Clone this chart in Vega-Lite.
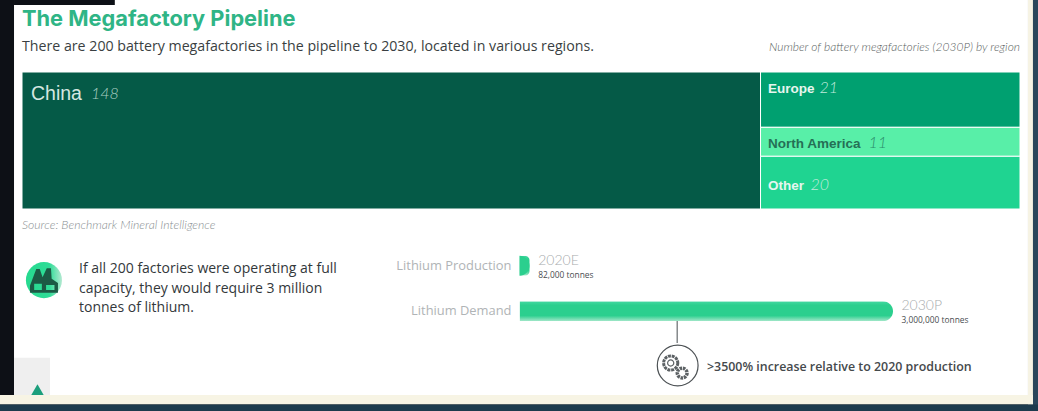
{
  "$schema": "https://vega.github.io/schema/vega-lite/v6.json",
  "width": 1038,
  "height": 411,
  "padding": 0,
  "autosize": "none",
  "background": "#0d1016",
  "config": {"view": {"stroke": null}},
  "datasets": {
    "regions": [
      {"region": "China", "factories": 148, "x0": 0, "x1": 148, "y0": 0, "y1": 52},
      {"region": "Europe", "factories": 21, "x0": 148, "x1": 200, "y0": 0, "y1": 21},
      {"region": "North America", "factories": 11, "x0": 148, "x1": 200, "y0": 21, "y1": 32},
      {"region": "Other", "factories": 20, "x0": 148, "x1": 200, "y0": 32, "y1": 52}
    ],
    "lithium": [
      {"flow": "Lithium Production", "tonnes": 82000, "period": "2020E", "amount": "82,000 tonnes"},
      {"flow": "Lithium Demand", "tonnes": 3000000, "period": "2030P", "amount": "3,000,000 tonnes"}
    ]
  },
  "layer": [
    {
      "data": {"values": [{"panel": "page"}]},
      "layer": [
        {
          "mark": {"type": "rect", "color": "#ffffff"},
          "encoding": {
            "x": {"datum": -1.6, "type": "quantitative", "axis": null,
                  "scale": {"domain": [0, 200], "range": [22, 1020], "nice": false, "zero": false}},
            "x2": {"datum": 201.6},
            "y": {"datum": -27.33, "type": "quantitative", "axis": null,
                  "scale": {"domain": [0, 52], "range": [72, 209], "nice": false, "zero": false}},
            "y2": {"datum": 123}
          }
        },
        {
          "mark": {"type": "rect", "color": "#0d1016"},
          "encoding": {
            "x": {"datum": -1.6, "type": "quantitative"}, "x2": {"datum": 18.6},
            "y": {"datum": -27.33, "type": "quantitative"}, "y2": {"datum": -25.4}
          }
        },
        {
          "mark": {"type": "rect", "color": "#f6f3e4"},
          "encoding": {
            "x": {"datum": 201.6, "type": "quantitative"}, "x2": {"datum": 202.6},
            "y": {"datum": -27.33, "type": "quantitative"}, "y2": {"datum": 126.2}
          }
        },
        {
          "mark": {"type": "rect", "color": "#2a465a"},
          "encoding": {
            "x": {"datum": 202.6, "type": "quantitative"}, "x2": {"datum": 203.7},
            "y": {"datum": -27.33, "type": "quantitative"}, "y2": {"datum": 129}
          }
        },
        {
          "mark": {"type": "rect", "color": "#efefef"},
          "encoding": {
            "x": {"datum": -1.6, "type": "quantitative"}, "x2": {"datum": 5.6},
            "y": {"datum": 108.5, "type": "quantitative"}, "y2": {"datum": 123}
          }
        },
        {
          "mark": {"type": "point", "shape": "triangle-up", "filled": true, "color": "#1c9f7c", "size": 225, "opacity": 1},
          "encoding": {
            "x": {"datum": 3.1, "type": "quantitative"},
            "y": {"datum": 121, "type": "quantitative"}
          }
        },
        {
          "mark": {"type": "rect", "color": "#f7f4e4"},
          "encoding": {
            "x": {"datum": -4.41, "type": "quantitative"}, "x2": {"datum": 202.6},
            "y": {"datum": 122.6, "type": "quantitative"}, "y2": {"datum": 126.2}
          }
        },
        {
          "mark": {"type": "rect", "color": "#1d3b4d"},
          "encoding": {
            "x": {"datum": -4.41, "type": "quantitative"}, "x2": {"datum": 203.7},
            "y": {"datum": 126.2, "type": "quantitative"}, "y2": {"datum": 129}
          }
        },
        {
          "data": {"name": "regions"},
          "mark": {"type": "rect", "stroke": "#ffffff", "strokeWidth": 1},
          "encoding": {
            "x": {"field": "x0", "type": "quantitative"},
            "x2": {"field": "x1"},
            "y": {"field": "y0", "type": "quantitative"},
            "y2": {"field": "y1"},
            "color": {
              "field": "region", "type": "nominal", "legend": null,
              "scale": {
                "domain": ["China", "Europe", "North America", "Other"],
                "range": ["#055a47", "#00a070", "#58efa8", "#1fd491"]
              }
            }
          }
        },
        {
          "data": {"name": "regions"},
          "transform": [{"filter": "datum.region === 'China'"}],
          "layer": [
            {
              "mark": {"type": "text", "align": "left", "baseline": "middle", "font": "Liberation Sans", "fontSize": 19.5, "color": "#d5e8e1", "dx": 9, "dy": 22},
              "encoding": {"text": {"field": "region"}, "x": {"field": "x0", "type": "quantitative"}, "y": {"field": "y0", "type": "quantitative"}}
            },
            {
              "mark": {"type": "text", "align": "left", "baseline": "middle", "font": "Lato", "fontStyle": "italic", "fontWeight": 300, "fontSize": 16, "color": "#a9cfc2", "dx": 69, "dy": 22},
              "encoding": {"text": {"field": "factories"}, "x": {"field": "x0", "type": "quantitative"}, "y": {"field": "y0", "type": "quantitative"}}
            }
          ]
        },
        {
          "data": {"name": "regions"},
          "transform": [{"filter": "datum.region === 'Europe'"}],
          "layer": [
            {
              "mark": {"type": "text", "align": "left", "baseline": "middle", "font": "Liberation Sans", "fontSize": 13.5, "fontWeight": 600, "color": "#e6f6ef", "dx": 7.5, "dy": 17},
              "encoding": {"text": {"field": "region"}, "x": {"field": "x0", "type": "quantitative"}, "y": {"field": "y0", "type": "quantitative"}}
            },
            {
              "mark": {"type": "text", "align": "left", "baseline": "middle", "font": "Lato", "fontStyle": "italic", "fontWeight": 300, "fontSize": 16, "color": "#bfeadb", "dx": 59, "dy": 16},
              "encoding": {"text": {"field": "factories"}, "x": {"field": "x0", "type": "quantitative"}, "y": {"field": "y0", "type": "quantitative"}}
            }
          ]
        },
        {
          "data": {"name": "regions"},
          "transform": [{"filter": "datum.region === 'North America'"}],
          "layer": [
            {
              "mark": {"type": "text", "align": "left", "baseline": "middle", "font": "Liberation Sans", "fontSize": 13.5, "fontWeight": 600, "color": "#256f56", "dx": 7.5, "dy": 17},
              "encoding": {"text": {"field": "region"}, "x": {"field": "x0", "type": "quantitative"}, "y": {"field": "y0", "type": "quantitative"}}
            },
            {
              "mark": {"type": "text", "align": "left", "baseline": "middle", "font": "Lato", "fontStyle": "italic", "fontWeight": 300, "fontSize": 16, "color": "#2b8d6c", "dx": 108, "dy": 16},
              "encoding": {"text": {"field": "factories"}, "x": {"field": "x0", "type": "quantitative"}, "y": {"field": "y0", "type": "quantitative"}}
            }
          ]
        },
        {
          "data": {"name": "regions"},
          "transform": [{"filter": "datum.region === 'Other'"}],
          "layer": [
            {
              "mark": {"type": "text", "align": "left", "baseline": "middle", "font": "Liberation Sans", "fontSize": 13.5, "fontWeight": 600, "color": "#e6f6ef", "dx": 7.5, "dy": 30},
              "encoding": {"text": {"field": "region"}, "x": {"field": "x0", "type": "quantitative"}, "y": {"field": "y0", "type": "quantitative"}}
            },
            {
              "mark": {"type": "text", "align": "left", "baseline": "middle", "font": "Lato", "fontStyle": "italic", "fontWeight": 300, "fontSize": 16, "color": "#bfeadb", "dx": 50, "dy": 29},
              "encoding": {"text": {"field": "factories"}, "x": {"field": "x0", "type": "quantitative"}, "y": {"field": "y0", "type": "quantitative"}}
            }
          ]
        },
        {
          "data": {"values": [{"label": "The Megafactory Pipeline"}]},
          "mark": {"type": "text", "align": "left", "baseline": "middle", "font": "Inter", "fontWeight": 700, "fontSize": 21.8, "color": "#2fb586"},
          "encoding": {"text": {"field": "label"}, "x": {"datum": 0, "type": "quantitative"}, "y": {"datum": -20.1, "type": "quantitative"}}
        },
        {
          "data": {"values": [{"label": "There are 200 battery megafactories in the pipeline to 2030, located in various regions."}]},
          "mark": {"type": "text", "align": "left", "baseline": "middle", "font": "Open Sans", "fontWeight": 500, "fontSize": 14.2, "color": "#3a3f42"},
          "encoding": {"text": {"field": "label"}, "x": {"datum": 0, "type": "quantitative"}, "y": {"datum": -9.5, "type": "quantitative"}}
        },
        {
          "data": {"values": [{"label": "Number of battery megafactories (2030P) by region"}]},
          "mark": {"type": "text", "align": "right", "baseline": "middle", "font": "Lato", "fontStyle": "italic", "fontWeight": 300, "fontSize": 12, "color": "#5a5f62"},
          "encoding": {"text": {"field": "label"}, "x": {"datum": 200, "type": "quantitative"}, "y": {"datum": -9.5, "type": "quantitative"}}
        },
        {
          "data": {"values": [{"label": "Source: Benchmark Mineral Intelligence"}]},
          "mark": {"type": "text", "align": "left", "baseline": "middle", "font": "Lato", "fontStyle": "italic", "fontWeight": 300, "fontSize": 12.2, "color": "#8a8f92"},
          "encoding": {"text": {"field": "label"}, "x": {"datum": 0, "type": "quantitative"}, "y": {"datum": 58.1, "type": "quantitative"}}
        },
        {
          "mark": {
            "type": "point", "shape": "circle", "filled": true, "size": 1300, "opacity": 1,
            "color": {"gradient": "linear", "x1": 0, "y1": 0, "x2": 1, "y2": 0,
                      "stops": [{"offset": 0, "color": "#26d98f"}, {"offset": 0.65, "color": "#2fdc97"}, {"offset": 1, "color": "#b5e9d2"}]}
          },
          "encoding": {"x": {"datum": 4.4, "type": "quantitative"}, "y": {"datum": 79, "type": "quantitative"}}
        },
        {
          "mark": {
            "type": "point", "filled": true, "color": "#1c5a45", "size": 784, "opacity": 1,
            "shape": "M-1,0.9 L-1,0.4 L-0.55,-0.8 L-0.3,-0.8 L-0.1,-0.2 L0.2,-0.85 L0.5,-0.85 L0.55,-0.1 L1,0.2 L1,0.9 Z M-0.7,0.7 L-0.15,0.7 L-0.15,0.25 L-0.7,0.25 Z M0.15,0.7 L0.75,0.7 L0.75,0.35 L0.15,0.35 Z"
          },
          "encoding": {"x": {"datum": 4.4, "type": "quantitative"}, "y": {"datum": 79, "type": "quantitative"}}
        },
        {
          "data": {"values": [{"label": "If all 200 factories were operating at full\ncapacity, they would require 3 million\ntonnes of lithium."}]},
          "mark": {"type": "text", "align": "left", "baseline": "middle", "lineBreak": "\n", "lineHeight": 19.5, "font": "Open Sans", "fontWeight": 500, "fontSize": 14, "color": "#33383b"},
          "encoding": {"text": {"field": "label"}, "x": {"datum": 11.42, "type": "quantitative"}, "y": {"datum": 74.8, "type": "quantitative"}}
        },
        {
          "mark": {"type": "rule", "color": "#666b6e", "strokeWidth": 1.2},
          "encoding": {"x": {"datum": 131.3, "type": "quantitative"}, "y": {"datum": 94.1, "type": "quantitative"}, "y2": {"datum": 102.9}}
        },
        {
          "mark": {"type": "point", "shape": "circle", "filled": false, "color": "#4d5255", "strokeWidth": 1.2, "size": 1662, "opacity": 1},
          "encoding": {"x": {"datum": 131.4, "type": "quantitative"}, "y": {"datum": 111.4, "type": "quantitative"}}
        },
        {
          "mark": {"type": "point", "shape": "circle", "filled": false, "color": "#5c6164", "strokeWidth": 3, "strokeDash": [3, 0.8], "size": 201, "opacity": 1},
          "encoding": {"x": {"datum": 130, "type": "quantitative"}, "y": {"datum": 110.45, "type": "quantitative"}}
        },
        {
          "mark": {"type": "point", "shape": "circle", "filled": false, "color": "#5c6164", "strokeWidth": 1.2, "size": 38, "opacity": 1},
          "encoding": {"x": {"datum": 130, "type": "quantitative"}, "y": {"datum": 110.45, "type": "quantitative"}}
        },
        {
          "mark": {"type": "point", "shape": "circle", "filled": false, "color": "#5c6164", "strokeWidth": 3.5, "strokeDash": [2.5, 0.8], "size": 95, "opacity": 1},
          "encoding": {"x": {"datum": 132.3, "type": "quantitative"}, "y": {"datum": 114.25, "type": "quantitative"}}
        },
        {
          "data": {"values": [{"label": ">3500% increase relative to 2020 production"}]},
          "mark": {"type": "text", "align": "left", "baseline": "middle", "font": "Open Sans", "fontWeight": 600, "fontSize": 12.4, "color": "#45494c"},
          "encoding": {"text": {"field": "label"}, "x": {"datum": 137.27, "type": "quantitative"}, "y": {"datum": 112, "type": "quantitative"}}
        }
      ]
    },
    {
      "data": {"name": "lithium"},
      "encoding": {
        "x": {
          "field": "tonnes", "type": "quantitative", "axis": null,
          "scale": {"domain": [0, 3000000], "range": [519.5, 893], "nice": false}
        },
        "y": {
          "field": "flow", "type": "nominal", "sort": null,
          "scale": {"domain": ["Lithium Production", "Lithium Demand"], "range": [246.5, 330.5], "paddingInner": 0.154, "paddingOuter": 0},
          "axis": {
            "title": null, "offset": -519.5, "ticks": false, "grid": false, "labels": false, "domainColor": "#8f9497", "domainWidth": 1
          }
        }
      },
      "layer": [
        {
          "mark": {
            "type": "bar", "size": 20, "cornerRadiusEnd": 10,
            "color": {"gradient": "linear", "x1": 0, "y1": 0, "x2": 0, "y2": 1,
                      "stops": [{"offset": 0, "color": "#45d8a2"}, {"offset": 0.2, "color": "#2bcf8e"}, {"offset": 0.72, "color": "#2bcf8e"}, {"offset": 1, "color": "#a6e8cb"}]}
          }
        },
        {
          "transform": [{"filter": "datum.tonnes < 100000"}],
          "mark": {"type": "point", "filled": true, "opacity": 1, "color": "#2bcf8e", "size": 400, "shape": "M0,-1 A1,1 0 0,1 0,1 Z"},
          "encoding": {"x": {"datum": 0, "type": "quantitative"}}
        },
        {
          "mark": {"type": "text", "align": "right", "baseline": "middle", "font": "Open Sans", "fontSize": 12.9, "color": "#b0b4b6", "dx": -8},
          "encoding": {"text": {"field": "flow"}, "x": {"datum": 0, "type": "quantitative"}}
        },
        {
          "mark": {"type": "text", "align": "left", "baseline": "middle", "font": "Lato", "fontWeight": 300, "fontSize": 14, "color": "#a8acae", "dx": 8.5, "dy": -5},
          "encoding": {"text": {"field": "period"}}
        },
        {
          "mark": {"type": "text", "align": "left", "baseline": "middle", "font": "Open Sans", "fontSize": 8.4, "color": "#4a4e50", "dx": 8.5, "dy": 9},
          "encoding": {"text": {"field": "amount"}}
        }
      ]
    }
  ],
  "resolve": {"scale": {"x": "independent", "y": "independent"}}
}
